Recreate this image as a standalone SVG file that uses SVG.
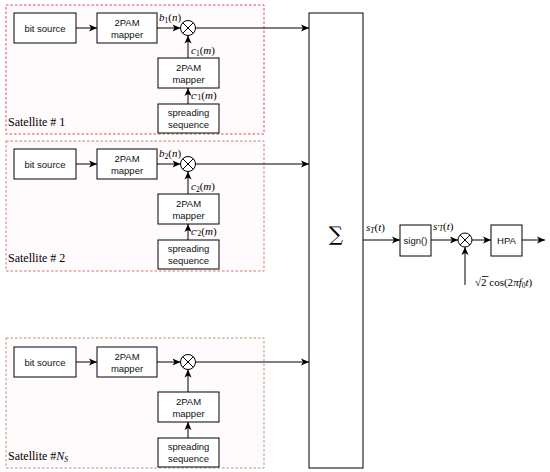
<svg xmlns="http://www.w3.org/2000/svg" width="550" height="472" viewBox="0 0 550 472">
<defs>
<marker id="arr" markerUnits="userSpaceOnUse" markerWidth="9" markerHeight="8" refX="8" refY="4" orient="auto">
<path d="M0,0.5 L8,4 L0,7.5 L2,4 z" fill="#000"/>
</marker>
<style>
.box{fill:#fff;stroke:#000;stroke-width:1}
.sat{stroke-width:1;stroke-dasharray:2.5 2;fill:#fffafb}
.lbl{font-family:"Liberation Sans",Arial,sans-serif;font-size:9.5px;text-anchor:middle;fill:#111}
.m{font-family:"Liberation Serif","DejaVu Serif",serif;font-size:11px;fill:#000}
.mi{font-style:italic}
.sub{font-size:7.5px}
.st{font-family:"Liberation Serif","DejaVu Serif",serif;font-size:12px;fill:#000}
.c{stroke:#000;stroke-width:1;fill:none}
.mul{fill:#fff;stroke:#000;stroke-width:1}
</style>
</defs>
<rect width="550" height="472" fill="#fff"/>

<!-- Satellite containers -->
<g id="sat1">
<rect class="sat" x="6" y="5" width="258" height="129" stroke="#e8455a"/>
<text class="st" x="8" y="126">Satellite # 1</text>
</g>
<g id="sat2">
<rect class="sat" x="6" y="141" width="258" height="130" stroke="#cf7a6a"/>
<text class="st" x="8" y="262">Satellite # 2</text>
</g>
<g id="satN">
<rect class="sat" x="6" y="338" width="258" height="130" stroke="#b99270"/>
<text class="st" x="8" y="460">Satellite #<tspan class="mi">N</tspan><tspan class="mi sub" dy="2">S</tspan></text>
</g>

<!-- Connectors -->
<g id="connectors">
<line class="c" x1="76" y1="28" x2="97" y2="28" marker-end="url(#arr)"/>
<line class="c" x1="157" y1="28" x2="180.5" y2="28" marker-end="url(#arr)"/>
<line class="c" x1="195.5" y1="28" x2="309" y2="28" marker-end="url(#arr)"/>
<line class="c" x1="188" y1="58" x2="188" y2="35.5" marker-end="url(#arr)"/>
<line class="c" x1="188" y1="104" x2="188" y2="88" marker-end="url(#arr)"/>
<line class="c" x1="76" y1="164" x2="97" y2="164" marker-end="url(#arr)"/>
<line class="c" x1="157" y1="164" x2="180.5" y2="164" marker-end="url(#arr)"/>
<line class="c" x1="195.5" y1="164" x2="309" y2="164" marker-end="url(#arr)"/>
<line class="c" x1="188" y1="194" x2="188" y2="171.5" marker-end="url(#arr)"/>
<line class="c" x1="188" y1="240" x2="188" y2="224" marker-end="url(#arr)"/>
<line class="c" x1="76" y1="362" x2="97" y2="362" marker-end="url(#arr)"/>
<line class="c" x1="157" y1="362" x2="180.5" y2="362" marker-end="url(#arr)"/>
<line class="c" x1="195.5" y1="362" x2="309" y2="362" marker-end="url(#arr)"/>
<line class="c" x1="188" y1="392" x2="188" y2="369.5" marker-end="url(#arr)"/>
<line class="c" x1="188" y1="438" x2="188" y2="422" marker-end="url(#arr)"/>
<line class="c" x1="363" y1="240" x2="400" y2="240" marker-end="url(#arr)"/>
<line class="c" x1="431" y1="240" x2="458" y2="240" marker-end="url(#arr)"/>
<line class="c" x1="472" y1="240" x2="491" y2="240" marker-end="url(#arr)"/>
<line class="c" x1="522" y1="240" x2="545" y2="240" marker-end="url(#arr)"/>
<line class="c" x1="465" y1="285" x2="465" y2="247" marker-end="url(#arr)"/>
</g>

<!-- Satellite 1 nodes -->
<g id="bitsrc1"><rect class="box" x="14" y="13" width="62" height="30"/><text class="lbl" x="45" y="31.5">bit source</text></g>
<g id="map1"><rect class="box" x="97" y="13" width="60" height="30"/><text class="lbl" x="127" y="25.5">2PAM</text><text class="lbl" x="127" y="37.5">mapper</text></g>
<g id="mul1"><circle class="mul" cx="188" cy="28" r="7.5"/><path class="c" d="M182.7,22.7 L193.3,33.3 M193.3,22.7 L182.7,33.3"/></g>
<g id="cmap1"><rect class="box" x="158" y="58" width="61" height="30"/><text class="lbl" x="188.5" y="70.5">2PAM</text><text class="lbl" x="188.5" y="82.5">mapper</text></g>
<g id="spread1"><rect class="box" x="158" y="104" width="61" height="29"/><text class="lbl" x="188.5" y="116">spreading</text><text class="lbl" x="188.5" y="128">sequence</text></g>
<g id="labels1">
<text class="m" x="159" y="21"><tspan class="mi">b</tspan><tspan class="sub" dy="2">1</tspan><tspan dy="-2">(</tspan><tspan class="mi">n</tspan>)</text>
<text class="m" x="191" y="54"><tspan class="mi">c</tspan><tspan class="sub" dy="2">1</tspan><tspan dy="-2">(</tspan><tspan class="mi">m</tspan>)</text>
<text class="m" x="191" y="99"><tspan class="mi">c</tspan><tspan class="sub" dy="1">′1</tspan><tspan dy="-1">(</tspan><tspan class="mi">m</tspan>)</text>
</g>

<!-- Satellite 2 nodes -->
<g id="bitsrc2"><rect class="box" x="14" y="149" width="62" height="30"/><text class="lbl" x="45" y="167.5">bit source</text></g>
<g id="map2"><rect class="box" x="97" y="149" width="60" height="30"/><text class="lbl" x="127" y="161.5">2PAM</text><text class="lbl" x="127" y="173.5">mapper</text></g>
<g id="mul2"><circle class="mul" cx="188" cy="164" r="7.5"/><path class="c" d="M182.7,158.7 L193.3,169.3 M193.3,158.7 L182.7,169.3"/></g>
<g id="cmap2"><rect class="box" x="158" y="194" width="61" height="30"/><text class="lbl" x="188.5" y="206.5">2PAM</text><text class="lbl" x="188.5" y="218.5">mapper</text></g>
<g id="spread2"><rect class="box" x="158" y="240" width="61" height="29"/><text class="lbl" x="188.5" y="252">spreading</text><text class="lbl" x="188.5" y="264">sequence</text></g>
<g id="labels2">
<text class="m" x="159" y="157"><tspan class="mi">b</tspan><tspan class="sub" dy="2">2</tspan><tspan dy="-2">(</tspan><tspan class="mi">n</tspan>)</text>
<text class="m" x="191" y="190"><tspan class="mi">c</tspan><tspan class="sub" dy="2">2</tspan><tspan dy="-2">(</tspan><tspan class="mi">m</tspan>)</text>
<text class="m" x="191" y="235"><tspan class="mi">c</tspan><tspan class="sub" dy="1">′2</tspan><tspan dy="-1">(</tspan><tspan class="mi">m</tspan>)</text>
</g>

<!-- Satellite N nodes -->
<g id="bitsrcN"><rect class="box" x="14" y="347" width="62" height="30"/><text class="lbl" x="45" y="365.5">bit source</text></g>
<g id="mapN"><rect class="box" x="97" y="347" width="60" height="30"/><text class="lbl" x="127" y="359.5">2PAM</text><text class="lbl" x="127" y="371.5">mapper</text></g>
<g id="mulN"><circle class="mul" cx="188" cy="362" r="7.5"/><path class="c" d="M182.7,356.7 L193.3,367.3 M193.3,356.7 L182.7,367.3"/></g>
<g id="cmapN"><rect class="box" x="158" y="392" width="61" height="30"/><text class="lbl" x="188.5" y="404.5">2PAM</text><text class="lbl" x="188.5" y="416.5">mapper</text></g>
<g id="spreadN"><rect class="box" x="158" y="438" width="61" height="29"/><text class="lbl" x="188.5" y="450">spreading</text><text class="lbl" x="188.5" y="462">sequence</text></g>

<!-- Sum and output chain -->
<g id="sum"><rect class="box" x="309" y="13" width="54" height="455"/><text x="336" y="241" font-family="'DejaVu Serif','Liberation Serif',serif" font-size="20" text-anchor="middle">∑</text></g>
<g id="sign"><rect class="box" x="400" y="225" width="31" height="31"/><text class="lbl" x="415.5" y="243.5" font-size="9">sign()</text></g>
<g id="mulOut"><circle class="mul" cx="465" cy="240" r="7"/><path class="c" d="M460,235 L470,245 M470,235 L460,245"/></g>
<g id="hpa"><rect class="box" x="491" y="225" width="31" height="31"/><text class="lbl" x="506.5" y="243.5">HPA</text></g>
<g id="labelsOut">
<text class="m" x="366" y="231"><tspan class="mi">s</tspan><tspan class="sub mi" dy="2">T</tspan><tspan dy="-2">(</tspan><tspan class="mi">t</tspan>)</text>
<text class="m" x="433" y="230"><tspan class="mi">s</tspan><tspan class="sub mi" dy="1">′T</tspan><tspan dy="-1">(</tspan><tspan class="mi">t</tspan>)</text>
<line x1="482" y1="276.5" x2="488.5" y2="276.5" stroke="#000" stroke-width="0.8"/>
<text class="m" x="475" y="286">√2 cos(2<tspan class="mi">π</tspan><tspan class="mi">f</tspan><tspan class="sub" dy="2">0</tspan><tspan class="mi" dy="-2">t</tspan>)</text>
</g>
</svg>
